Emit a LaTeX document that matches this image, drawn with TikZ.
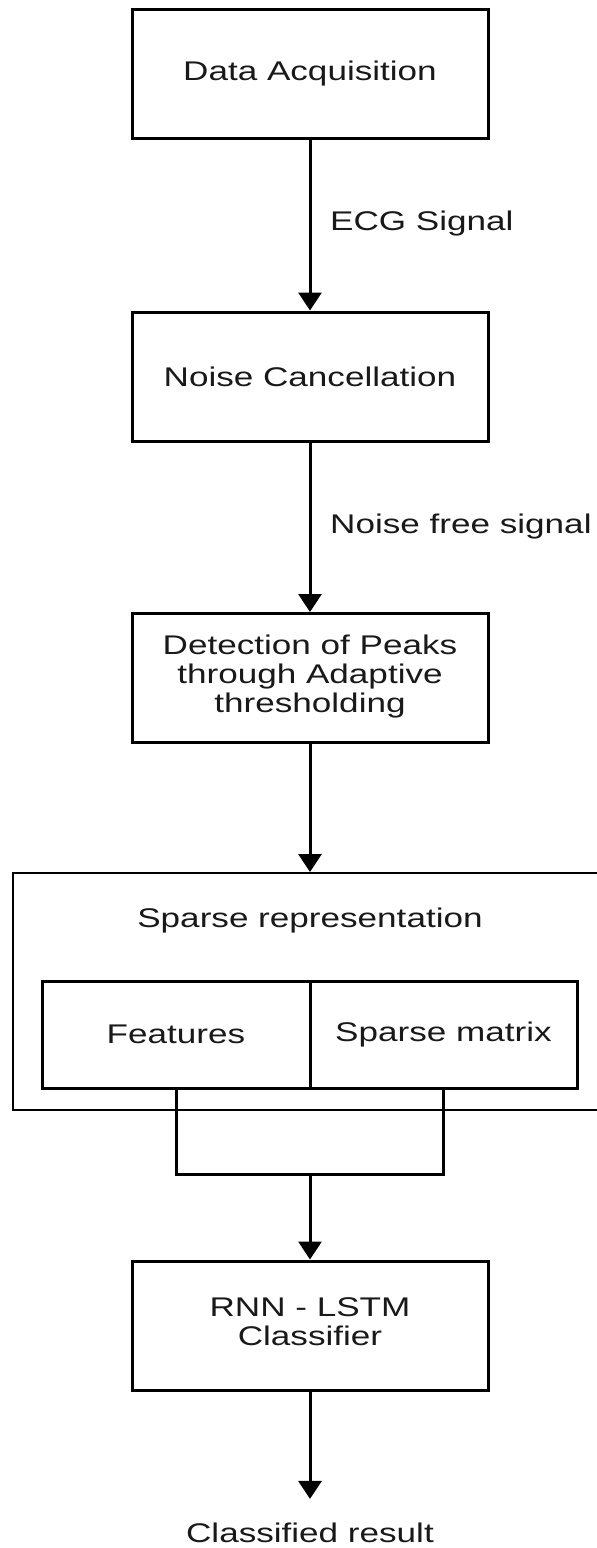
\documentclass[tikz,border=0pt]{standalone}
\usepackage{fontspec}
\setmainfont{Liberation Sans}
\usetikzlibrary{arrows.meta}
% text is set slightly wide, as in the drawing
\newcommand{\wtxt}[1]{\scalebox{1.3}[1]{#1}}
\newcommand{\wlines}[1]{\scalebox{1.3}[1]{\begin{tabular}{@{}c@{}}#1\end{tabular}}}
\begin{document}
\begin{tikzpicture}[x=1pt,y=-1pt,
  txt/.style={font=\fontsize{27}{29}\selectfont, text=black!90, inner sep=0pt},
  stage/.style={txt, draw=black, line width=3pt, minimum width=356pt, minimum height=129pt},
  cell/.style={txt, draw=black, line width=3pt, minimum height=107pt},
  group/.style={draw=black, line width=2pt, inner sep=0pt},
  wire/.style={draw=black, line width=3pt},
  flow/.style={wire, -{Triangle[width=23pt,length=18pt]}}]
  \clip (0,0) rectangle (597,1548);

  % main stages
  \node[stage] (acq) at (310,74) {\wtxt{Data Acquisition}};
  \node[stage] (noise) at (310,376.5) {\wtxt{Noise Cancellation}};
  \node[stage] (peaks) at (310,678) {\wlines{Detection of Peaks\\through Adaptive\\thresholding}};

  % sparse representation group
  \node[group, minimum width=607pt, minimum height=237pt] (sparse) at (316.5,991.5) {};
  \node[txt] (sptitle) at (310,921) {\wtxt{Sparse representation}};
  \node[cell, minimum width=268pt] (feat) at (176,1034.5) {\wtxt{Features}};
  \node[cell, minimum width=267pt] (mat) at (443.5,1034.5) {\wtxt{Sparse matrix}};

  \node[stage] (rnn) at (310,1325.5) {\wlines{RNN - LSTM\\Classifier}};
  \node[txt, inner ysep=24pt] (res) at (310,1533) {\wtxt{Classified result}};

  % connectors
  \draw[flow] (acq.south) -- (noise.north);
  \node[txt, anchor=west] (ecg) at (330,224) {\wtxt{ECG Signal}};
  \draw[flow] (noise.south) -- (peaks.north);
  \node[txt, anchor=west] (nfs) at (330,527) {\wtxt{Noise free signal}};
  \draw[flow] (peaks.south) -- (peaks.south |- sparse.north);

  \coordinate (join) at (310,1174);
  \draw[wire] (feat.south) |- (join) -| (mat.south);
  \draw[flow] (join) -- (rnn.north);
  \draw[flow] (rnn.south) -- (res.north);
\end{tikzpicture}
\end{document}
